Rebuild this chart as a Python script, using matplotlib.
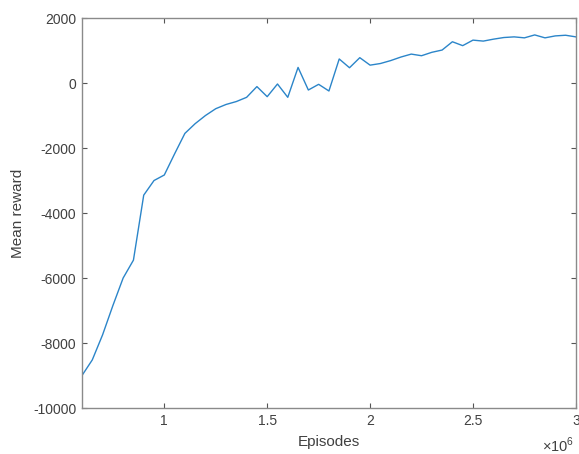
import numpy as np
import matplotlib
matplotlib.use("Agg")
import matplotlib.pyplot as plt
from matplotlib.ticker import FuncFormatter

episodes = np.arange(0.60, 3.0001, 0.05) * 1e6
mean_reward = [
    -9000, -8520, -7750, -6850, -6000, -5450, -3450, -3000, -2830, -2180,
    -1550, -1250, -1000, -790, -660, -570, -440, -110, -420, -30,
    -440, 480, -215, -40, -245, 740, 470, 780, 550, 600,
    690, 800, 890, 840, 945, 1015, 1270, 1150, 1320, 1290,
    1350, 1400, 1420, 1390, 1480, 1390, 1450, 1470, 1420,
]
y_ticks = [-10000, -8000, -6000, -4000, -2000, 0, 2000]
x_ticks = [1e6, 1.5e6, 2e6, 2.5e6, 3e6]

plt.rcParams["font.family"] = ["Liberation Sans", "DejaVu Sans"]
plt.rcParams["axes.unicode_minus"] = False
plt.rcParams["mathtext.fontset"] = "custom"
plt.rcParams["mathtext.rm"] = "Liberation Sans"

fig = plt.figure(figsize=(5.79, 4.54), dpi=100)
ax = fig.add_axes([0.1416, 0.1013, 0.853, 0.859])
ax.plot(episodes, mean_reward, color="#2b85c9", linewidth=1.0)

ax.set_xlim(0.6e6, 3e6)
ax.set_ylim(-10000, 2000)
ax.set_xticks(x_ticks)
ax.set_yticks(y_ticks)
ax.xaxis.set_major_formatter(FuncFormatter(lambda v, p: "%g" % (v / 1e6)))

txt = "#404040"
for s in ax.spines.values():
    s.set_color("#8a8a8a")
    s.set_linewidth(1.0)
ax.tick_params(direction="in", top=True, right=True, length=3.5, width=0.8,
               color="#555555", labelcolor=txt, labelsize=10, pad=4)
ax.set_xlabel("Episodes", fontsize=11, color=txt, labelpad=5)
ax.set_ylabel("Mean reward", fontsize=11, color=txt, labelpad=6)
ax.text(0.996, -0.07, r"$\times10^{6}$", transform=ax.transAxes,
        ha="right", va="top", fontsize=10.5, color=txt)

plt.savefig("out.png", dpi=100)
